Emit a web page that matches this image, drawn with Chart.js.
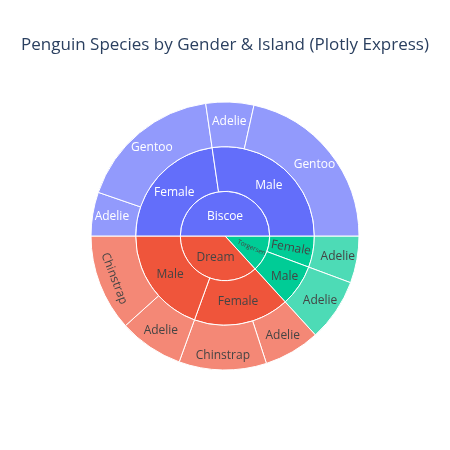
<!DOCTYPE html>
<html>
<head>
<meta charset="utf-8">
<script src="https://cdn.jsdelivr.net/npm/chart.js@4.4.0/dist/chart.umd.min.js"></script>
<style>
html,body{margin:0;padding:0;background:#fff;}
#wrap{width:450px;height:450px;position:relative;}
</style>
</head>
<body>
<div id="wrap"><canvas id="c" width="450" height="450"></canvas></div>
<script>
// ---- data (leaf level, clockwise from 3 o'clock) ----
const chartTitle = 'Penguin Species by Gender & Island (Plotly Express)';
const islands = ['Torgersen', 'Dream', 'Biscoe'];
const leafIsland = ['Torgersen','Torgersen','Dream','Dream','Dream','Dream','Biscoe','Biscoe','Biscoe','Biscoe'];
const leafSex = ['Female','Male','Female','Female','Male','Male','Female','Female','Male','Male'];
const leafSpecies = ['Adelie','Adelie','Adelie','Chinstrap','Adelie','Chinstrap','Adelie','Gentoo','Adelie','Gentoo'];
const leafValues = [20.4, 27.2, 24.4, 38, 28, 42, 19, 62.7, 20.8, 77.5];

// ---- build hierarchy levels from leaves ----
const sexKeys = [], sexIsland = [], sexLabel = [], sexValues = [];
leafIsland.forEach((isl, i) => {
  const key = isl + '/' + leafSex[i];
  let k = sexKeys.indexOf(key);
  if (k < 0) { sexKeys.push(key); sexIsland.push(isl); sexLabel.push(leafSex[i]); sexValues.push(0); k = sexKeys.length - 1; }
  sexValues[k] += leafValues[i];
});
const islandValues = islands.map(isl => leafValues.reduce((s, v, i) => s + (leafIsland[i] === isl ? v : 0), 0));

// ---- styles ----
const baseColor = { Biscoe: [99,110,250], Dream: [239,85,59], Torgersen: [0,204,150] };
const solid = isl => 'rgb(' + baseColor[isl].join(',') + ')';
const leafCol = isl => 'rgb(' + baseColor[isl].map(c => Math.round(c * 0.7 + 255 * 0.3)).join(',') + ')';
const textCol = isl => isl === 'Biscoe' ? '#ffffff' : '#444444';

const labelStyle = {
  'Torgersen': { orient: 'radial', size: 6.4 },
  'Torgersen/Female': { orient: 'radial' },
  'Torgersen/Male': { dr: 5 },
  'Dream/Male/Chinstrap': { orient: 'tangential', dr: 4 },
  'Dream/Female/Chinstrap': { dr: 5 }
};

const datasets = [
  { data: leafValues, backgroundColor: leafIsland.map(leafCol),
    paths: leafIsland.map((isl, i) => isl + '/' + leafSex[i] + '/' + leafSpecies[i]),
    names: leafSpecies, owners: leafIsland },
  { data: sexValues, backgroundColor: sexIsland.map(solid),
    paths: sexKeys, names: sexLabel, owners: sexIsland },
  { data: islandValues, backgroundColor: islands.map(solid),
    paths: islands, names: islands, owners: islands }
].map(d => Object.assign(d, { borderColor: '#ffffff', borderWidth: 1, hoverOffset: 0 }));

const labelPlugin = {
  id: 'sunLabels',
  afterDatasetsDraw(chart) {
    const ctx = chart.ctx;
    chart.data.datasets.forEach((ds, di) => {
      const meta = chart.getDatasetMeta(di);
      meta.data.forEach((arc, i) => {
        const p = arc.getProps(['x','y','startAngle','endAngle','innerRadius','outerRadius'], true);
        const st = labelStyle[ds.paths[i]] || {};
        const mid = (p.startAngle + p.endAngle) / 2;
        let r;
        if (p.innerRadius < 1) {
          const a = p.endAngle - p.startAngle;
          r = 4 * p.outerRadius * Math.sin(a / 2) / (3 * a);
        } else {
          r = (p.innerRadius + p.outerRadius) / 2 + (di === 0 ? 3 : 0);
        }
        r += st.dr || 0;
        const x = p.x + r * Math.cos(mid), y = p.y + r * Math.sin(mid);
        let rot = 0;
        if (st.orient === 'radial') {
          rot = mid;
          const deg = ((mid * 180 / Math.PI) % 360 + 360) % 360;
          if (deg > 90 && deg < 270) rot += Math.PI;
        } else if (st.orient === 'tangential') {
          rot = mid - Math.PI / 2;
          const deg = ((rot * 180 / Math.PI) % 360 + 360) % 360;
          if (deg > 90 && deg < 270) rot += Math.PI;
        }
        ctx.save();
        ctx.translate(x, y);
        ctx.rotate(rot);
        ctx.font = (st.size || 12) + 'px "Open Sans"';
        ctx.fillStyle = textCol(ds.owners[i]);
        ctx.textAlign = 'center';
        ctx.textBaseline = 'middle';
        ctx.fillText(ds.names[i], 0, 0);
        ctx.restore();
      });
    });
  }
};

new Chart(document.getElementById('c'), {
  type: 'doughnut',
  data: { labels: leafSpecies, datasets: datasets },
  options: {
    responsive: false,
    animation: false,
    rotation: 90,
    cutout: 0,
    radius: 134,
    layout: { padding: { top: 0, bottom: 79, left: 0, right: 0 } },
    plugins: {
      legend: { display: false },
      tooltip: { enabled: false },
      title: {
        display: true,
        text: chartTitle,
        color: '#2a3f5f',
        font: { family: 'Open Sans', size: 17, weight: 'normal' },
        padding: { top: 35, bottom: 45.6 }
      }
    }
  },
  plugins: [labelPlugin]
});
</script>
</body>
</html>
